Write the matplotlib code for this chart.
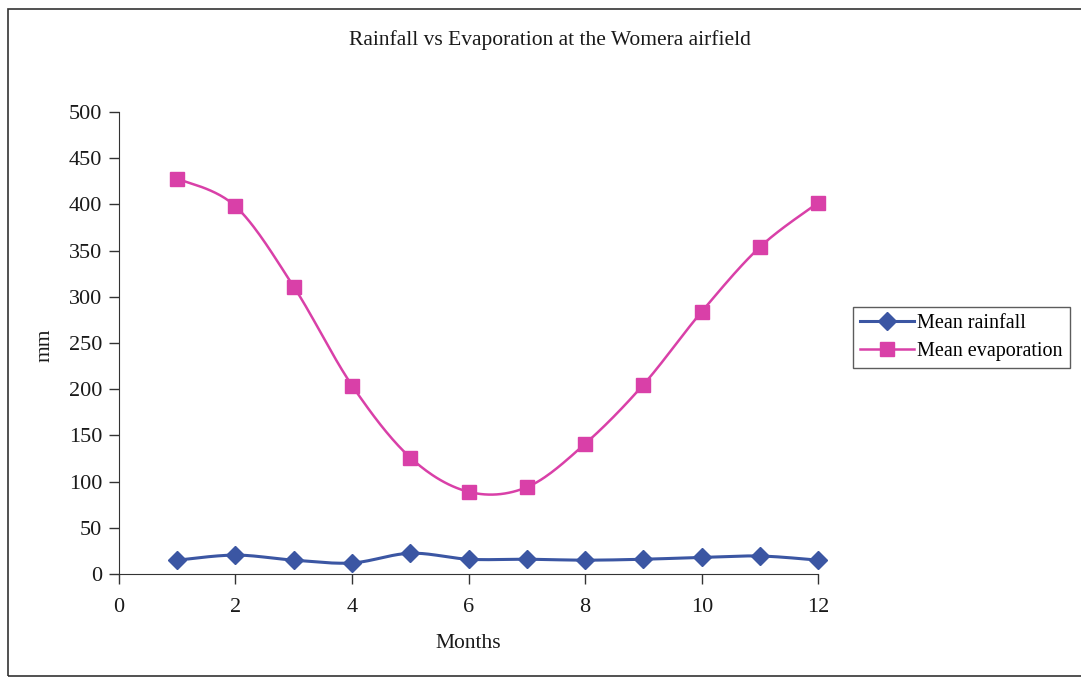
import matplotlib
matplotlib.use("Agg")
import matplotlib.pyplot as plt
import numpy as np
from matplotlib.patches import Rectangle

plt.rcParams['font.family'] = ['Liberation Serif', 'DejaVu Serif']

months = [1, 2, 3, 4, 5, 6, 7, 8, 9, 10, 11, 12]
rainfall = [15, 20.5, 15, 12, 22.5, 16, 16, 15, 16, 18, 19.5, 15]
evaporation = [428, 398, 311, 204, 126, 89, 94, 141, 205, 284, 354, 402]

blue = '#3b56a3'
pink = '#d940a8'


def smooth(x, y, n=30):
    # Catmull-Rom curve through the points, like Excel's smoothed line
    x = np.asarray(x, float)
    y = np.asarray(y, float)
    px = np.concatenate([[x[0]], x, [x[-1]]])
    py = np.concatenate([[y[0]], y, [y[-1]]])
    xs, ys = [], []
    t = np.linspace(0, 1, n)
    for i in range(1, len(px) - 2):
        p0, p1, p2, p3 = [np.array([px[j], py[j]]) for j in range(i - 1, i + 3)]
        c1 = p1 + (p2 - p0) / 6
        c2 = p2 - (p3 - p1) / 6
        b = ((1 - t) ** 3)[:, None] * p1 + (3 * (1 - t) ** 2 * t)[:, None] * c1 \
            + (3 * (1 - t) * t ** 2)[:, None] * c2 + (t ** 3)[:, None] * p2
        xs.extend(b[:, 0])
        ys.extend(b[:, 1])
    return xs, ys


fig = plt.figure(figsize=(10.81, 6.79), dpi=100)
ax = fig.add_axes([0.110, 0.1546, 0.647, 0.6804])

sx, sy = smooth(months, rainfall)
ax.plot(sx, sy, color=blue, lw=2.2, zorder=2, clip_on=False)
ax.plot(months, rainfall, ls='none', marker='D', ms=9, color=blue, zorder=3, clip_on=False)
sx, sy = smooth(months, evaporation)
ax.plot(sx, sy, color=pink, lw=1.8, zorder=2, clip_on=False)
ax.plot(months, evaporation, ls='none', marker='s', ms=10, color=pink, zorder=3, clip_on=False)

ax.set_xlim(0, 12)
ax.set_ylim(0, 500)
ax.set_xticks(range(0, 13, 2))
ax.set_yticks(range(0, 501, 50))
ax.spines['top'].set_visible(False)
ax.spines['right'].set_visible(False)
ax.spines['left'].set_color('#333333')
ax.spines['bottom'].set_color('#333333')
ax.tick_params(direction='out', length=7, width=1, colors='#333333',
               labelsize=16, labelcolor='#1a1a1a')
ax.tick_params(axis='x', pad=10)
ax.tick_params(axis='y', pad=5)

fig.text(0.509, 0.941, 'Rainfall vs Evaporation at the Womera airfield',
         ha='center', va='center', fontsize=15.5, color='#1a1a1a')
fig.text(0.042, 0.492, 'mm', rotation=90, ha='center', va='center',
         fontsize=15.5, color='#1a1a1a')
fig.text(0.433, 0.053, 'Months', ha='center', va='center',
         fontsize=15.5, color='#1a1a1a')

h1, = ax.plot([], [], color=blue, lw=2.2, marker='D', ms=9)
h2, = ax.plot([], [], color=pink, lw=1.8, marker='s', ms=10)
leg = fig.legend([h1, h2], ['Mean rainfall', 'Mean evaporation'],
                 loc='upper left', bbox_to_anchor=(0.789, 0.548),
                 frameon=True, fancybox=False, fontsize=14.5,
                 handlelength=2.7, handletextpad=0.15, borderpad=0.35,
                 labelspacing=0.45, borderaxespad=0)
leg.get_frame().set_edgecolor('#333333')
leg.get_frame().set_linewidth(1)

fig.patches.append(Rectangle((0.007, 0.005), 1.0, 0.982, transform=fig.transFigure,
                             fill=False, edgecolor='#333333', lw=1.2))

fig.savefig('out.png', dpi=100)
